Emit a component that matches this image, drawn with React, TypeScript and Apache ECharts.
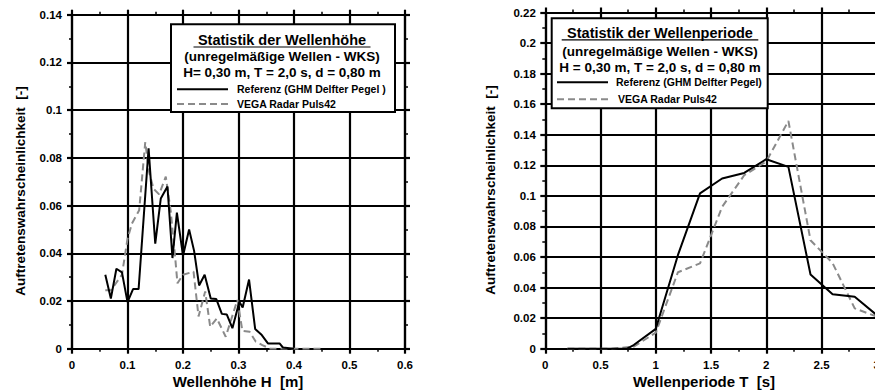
import React, { useEffect, useRef } from "react";
import * as echarts from "echarts";

const FONT = "'Liberation Sans', Arial, sans-serif";
const GREY = "#8a8a8a";

// ---- Left chart: Wellenhöhe ----
const heightTicksX = [0, 0.6, 0.1];
const heightTicksY = [0, 0.14, 0.02];
const heightRefH = [0.06, 0.07, 0.08, 0.09, 0.1, 0.11, 0.12, 0.138, 0.15, 0.16, 0.172, 0.181, 0.189, 0.2, 0.211, 0.22, 0.229, 0.239, 0.25, 0.26, 0.27, 0.279, 0.289, 0.3015, 0.3075, 0.319, 0.33, 0.342, 0.353, 0.365, 0.374, 0.38, 0.4];
const heightRefP = [0.031, 0.021, 0.0335, 0.032, 0.0195, 0.025, 0.025, 0.084, 0.044, 0.063, 0.068, 0.038, 0.057, 0.039, 0.05, 0.041, 0.0265, 0.031, 0.021, 0.0208, 0.0146, 0.0143, 0.0086, 0.0197, 0.0173, 0.029, 0.0083, 0.0057, 0.0022, 0.0022, 0.0022, 0.0005, 0];
const heightVegaH = [0.06, 0.07, 0.09, 0.1, 0.108, 0.121, 0.132, 0.139, 0.147, 0.157, 0.169, 0.178, 0.186, 0.19, 0.2, 0.219, 0.228, 0.24, 0.249, 0.261, 0.277, 0.298, 0.307, 0.32, 0.331, 0.343, 0.357, 0.45];
const heightVegaP = [0.0245, 0.0245, 0.031, 0.046, 0.0525, 0.058, 0.0866, 0.074, 0.067, 0.0647, 0.0721, 0.0574, 0.038, 0.0274, 0.031, 0.0323, 0.0135, 0.024, 0.0092, 0.0127, 0.005, 0.0204, 0.0075, 0.0071, 0.003, 0.0015, 0, 0];

// ---- Right chart: Wellenperiode ----
const periodTicksX = [0, 3, 0.5];
const periodTicksY = [0, 0.22, 0.02];
const periodRefT = [0.2, 0.4, 0.6, 0.74, 0.8, 1.0, 1.2, 1.4, 1.6, 1.8, 2.0, 2.2, 2.4, 2.6, 2.8, 3.0];
const periodRefP = [0, 0, 0, 0, 0.0024, 0.013, 0.0612, 0.1016, 0.1114, 0.115, 0.124, 0.119, 0.0486, 0.0356, 0.034, 0.022];
const periodVegaT = [0.2, 0.4, 0.6, 0.8, 1.0, 1.2, 1.4, 1.6, 1.8, 2.0, 2.2, 2.4, 2.6, 2.8, 3.0];
const periodVegaP = [0, 0, 0, 0.0013, 0.0105, 0.05, 0.0558, 0.0928, 0.1135, 0.1225, 0.149, 0.071, 0.056, 0.0264, 0.021];

const zip = (a: number[], b: number[]) => a.map((v, i) => [v, b[i]]);

const labelStyle = { color: "#000", fontFamily: FONT, fontWeight: "bold" as const, fontSize: 11.5 };
const AX = { color: "#000", width: 2.2, opacity: 1 };
const SPL = { color: "#000", width: 2.2, opacity: 1, type: "solid" };

function mkX(gridIndex: number, t: number[], main: boolean) {
  return {
    type: "value",
    gridIndex,
    min: t[0],
    max: t[1],
    interval: t[2],
    position: main ? "bottom" : "top",
    axisLine: { show: true, onZero: false, lineStyle: AX },
    axisTick: { show: true, length: 5, lineStyle: AX },
    minorTick: { show: true, splitNumber: 2, length: 3, lineStyle: { color: "#000", width: 1.5, opacity: 1 } },
    axisLabel: main ? { ...labelStyle, margin: 10 } : { show: false },
    splitLine: { show: main, lineStyle: SPL },
  };
}
function mkY(gridIndex: number, t: number[], main: boolean, margin: number) {
  return {
    type: "value",
    gridIndex,
    min: t[0],
    max: t[1],
    interval: t[2],
    position: main ? "left" : "right",
    axisLine: { show: true, onZero: false, lineStyle: AX },
    axisTick: { show: true, length: 5, lineStyle: AX },
    minorTick: { show: true, splitNumber: 2, length: 3, lineStyle: { color: "#000", width: 1.5, opacity: 1 } },
    axisLabel: main ? { ...labelStyle, margin } : { show: false },
    splitLine: { show: main, lineStyle: SPL },
  };
}

function txt(text: string, x: number, y: number, size: number, align = "center", rotation = 0) {
  return {
    type: "text",
    x,
    y,
    rotation,
    z: 101,
    style: {
      text,
      fill: "#000",
      fontFamily: FONT,
      fontWeight: "bold",
      fontSize: size,
      align,
      verticalAlign: "middle",
    },
  };
}
function ln(x1: number, y1: number, x2: number, y2: number, color: string, w: number, dash?: number[]) {
  return {
    type: "line",
    z: 101,
    shape: { x1, y1, x2, y2 },
    style: { stroke: color, lineWidth: w, lineDash: dash },
  };
}

export default function App() {
  const ref = useRef<HTMLDivElement>(null);
  useEffect(() => {
    const chart = echarts.init(ref.current!, null, { renderer: "svg" });
    const graphic: any[] = [
      // left legend box
      { type: "rect", z: 100, shape: { x: 171, y: 24.3, width: 224, height: 87.7 }, style: { fill: "#fff", stroke: "#000", lineWidth: 2 } },
      txt("Statistik der Wellenhöhe", 282, 40, 14.5),
      ln(193.5, 47, 370.5, 47, "#000", 1.2),
      txt("(unregelmäßige Wellen - WKS)", 282, 56.5, 13.5),
      txt("H= 0,30 m, T = 2,0 s, d = 0,80 m", 282, 72.7, 13.5),
      ln(177, 89.3, 228, 89.3, "#000", 2),
      txt("Referenz (GHM Delfter Pegel )", 237, 89.3, 10.5, "left"),
      ln(177, 104, 228, 104, GREY, 2, [7, 4]),
      txt("VEGA Radar Puls42", 237, 104, 10.5, "left"),
      // right legend box
      { type: "rect", z: 100, shape: { x: 551.7, y: 18.3, width: 216, height: 90 }, style: { fill: "#fff", stroke: "#000", lineWidth: 2 } },
      txt("Statistik der Wellenperiode", 660, 33.3, 14.5),
      ln(561.7, 39.8, 758.3, 39.8, "#000", 1.2),
      txt("(unregelmäßige Wellen - WKS)", 660, 51, 13.5),
      txt("H = 0,30 m, T = 2,0 s, d = 0,80 m", 660, 67.3, 13.5),
      ln(557, 82.3, 608, 82.3, "#000", 2),
      txt("Referenz (GHM Delfter Pegel)", 616, 82.3, 10.5, "left"),
      ln(557, 99.3, 608, 99.3, GREY, 2, [7, 4]),
      txt("VEGA Radar Puls42", 618, 99.3, 10.5, "left"),
      // axis names
      txt("Auftretenswahrscheinlichkeit  [-]", 20, 191, 13.5, "center", Math.PI / 2),
      txt("Auftretenswahrscheinlichkeit  [-]", 490, 190, 13.5, "center", Math.PI / 2),
      txt("Wellenhöhe H  [m]", 238, 381.5, 15),
      txt("Wellenperiode T  [s]", 704, 381.5, 15),
    ];
    const option: any = {
      animation: false,
      backgroundColor: "#fff",
      grid: [
        { left: 72, top: 14.7, width: 333, height: 334, containLabel: false, outerBoundsMode: "none" },
        { left: 545.3, top: 12.5, width: 331.5, height: 336.2, containLabel: false, outerBoundsMode: "none" },
      ],
      xAxis: [mkX(0, heightTicksX, true), mkX(0, heightTicksX, false), mkX(1, periodTicksX, true), mkX(1, periodTicksX, false)],
      yAxis: [mkY(0, heightTicksY, true, 10), mkY(0, heightTicksY, false, 10), mkY(1, periodTicksY, true, 9.5), mkY(1, periodTicksY, false, 9.5)],
      series: [
        { type: "line", name: "VEGA Radar Puls42", xAxisIndex: 0, yAxisIndex: 0, data: zip(heightVegaH, heightVegaP), showSymbol: false, lineStyle: { color: GREY, width: 2, type: [7, 4] }, z: 3 },
        { type: "line", name: "Referenz", xAxisIndex: 0, yAxisIndex: 0, data: zip(heightRefH, heightRefP), showSymbol: false, lineStyle: { color: "#000", width: 2 }, z: 4 },
        { type: "line", name: "VEGA Radar Puls42", xAxisIndex: 2, yAxisIndex: 2, data: zip(periodVegaT, periodVegaP), showSymbol: false, lineStyle: { color: GREY, width: 2, type: [7, 4] }, z: 3 },
        { type: "line", name: "Referenz", xAxisIndex: 2, yAxisIndex: 2, data: zip(periodRefT, periodRefP), showSymbol: false, lineStyle: { color: "#000", width: 2 }, z: 4 },
      ],
      graphic,
    };
    chart.setOption(option);
    return () => chart.dispose();
  }, []);
  return <div ref={ref} style={{ position: "fixed", left: 0, top: 0, width: 875, height: 390, background: "#fff" }} />;
}
